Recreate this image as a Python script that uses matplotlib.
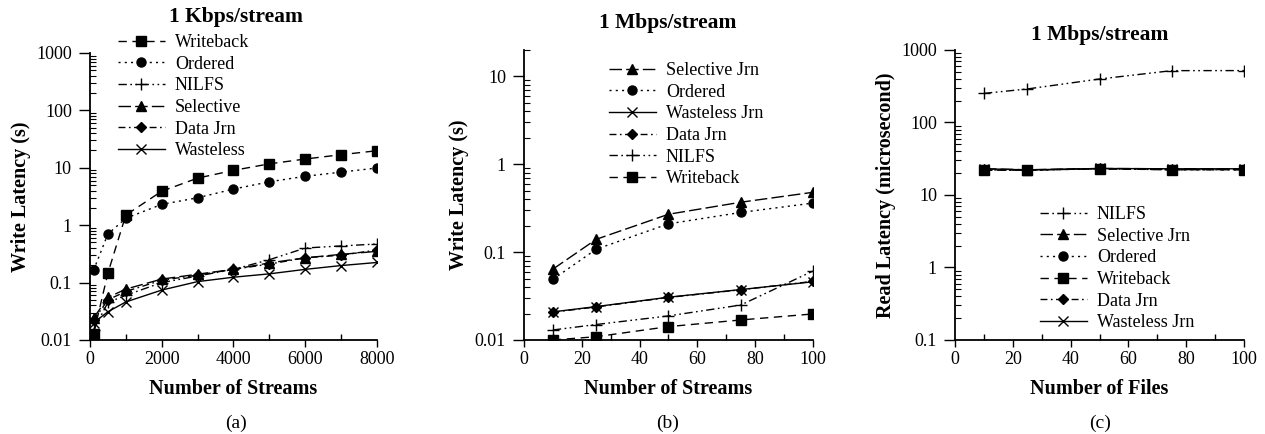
import matplotlib
matplotlib.use("Agg")
import matplotlib.pyplot as plt
from matplotlib.ticker import LogLocator, NullFormatter, FixedLocator

plt.rcParams['font.family'] = ['Liberation Serif', 'DejaVu Serif']

# ------------------- DATA -------------------
# (a) 1 Kbps/stream, write latency (s)
streams_a = [100, 500, 1000, 2000, 3000, 4000, 5000, 6000, 7000, 8000]
a_writeback = [0.0126, 0.146, 1.5, 3.9, 6.6, 9.0, 11.7, 14.2, 16.9, 19.8]
a_ordered = [0.164, 0.70, 1.32, 2.3, 3.0, 4.25, 5.7, 7.1, 8.4, 9.9]
a_nilfs = [0.015, 0.045, 0.06, 0.10, 0.13, 0.17, 0.25, 0.40, 0.435, 0.47]
a_selective = [0.024, 0.055, 0.077, 0.115, 0.14, 0.17, 0.22, 0.27, 0.31, 0.35]
a_datajrn = [0.022, 0.050, 0.070, 0.11, 0.135, 0.17, 0.21, 0.27, 0.30, 0.37]
a_wasteless = [0.020, 0.031, 0.046, 0.074, 0.104, 0.124, 0.142, 0.17, 0.198, 0.224]

# (b) 1 Mbps/stream, write latency (s)
streams_b = [10, 25, 50, 75, 100]
b_selective = [0.064, 0.14, 0.27, 0.37, 0.48]
b_ordered = [0.049, 0.108, 0.21, 0.283, 0.362]
b_wasteless = [0.0209, 0.024, 0.0307, 0.0375, 0.046]
b_datajrn = [0.0207, 0.0238, 0.0305, 0.0373, 0.0465]
b_nilfs = [0.013, 0.015, 0.0188, 0.025, 0.061]
b_writeback = [0.010, 0.0109, 0.0142, 0.0169, 0.0198]

# (c) 1 Mbps/stream, read latency (microsecond)
files_c = [10, 25, 50, 75, 100]
c_nilfs = [252, 290, 398, 519, 520]
c_selective = [23, 22.3, 23.2, 23, 23]
c_ordered = [22, 22, 23, 22.3, 22.3]
c_writeback = [22, 22, 23, 22.3, 22.3]
c_datajrn = [22.2, 22, 23, 22.4, 22.4]
c_wasteless = [23, 22.2, 23.2, 23, 23]
# --------------------------------------------

STYLE = {
    "writeback": dict(ls=(0, (6, 4)), marker="s", ms=6.5),
    "ordered": dict(ls=(0, (1.5, 3)), marker="o", ms=6.5),
    "nilfs": dict(ls=(0, (6, 2.5, 1.2, 2.5, 1.2, 2.5)), marker="+", ms=8, mew=1.0),
    "selective": dict(ls=(0, (9, 3)), marker="^", ms=6.5),
    "datajrn": dict(ls=(0, (5, 2.5, 1.2, 2.5)), marker="D", ms=5),
    "wasteless": dict(ls="-", marker="x", ms=7, mew=1.0),
}

TICK_FS = 13
LABEL_FS = 14.5
TITLE_FS = 15.5
LEG_FS = 13
CAP_FS = 14


def draw(ax, x, y, key, label):
    ax.plot(x, y, color="black", lw=1.0, label=label, **STYLE[key])


def style_axes(ax):
    ax.set_yscale("log")
    for s in ("top", "right"):
        ax.spines[s].set_visible(False)
    for s in ("left", "bottom"):
        ax.spines[s].set_linewidth(1.3)
    ax.yaxis.set_major_locator(LogLocator(base=10))
    ax.yaxis.set_minor_locator(LogLocator(base=10, subs=range(2, 10)))
    ax.yaxis.set_minor_formatter(NullFormatter())
    ax.yaxis.set_major_formatter(plt.FuncFormatter(lambda v, p: f"{v:g}"))
    ax.tick_params(axis="y", which="major", direction="out", length=8, width=1.0,
                   labelsize=TICK_FS, pad=5)
    ax.tick_params(axis="y", which="minor", direction="in", length=4, width=0.8)
    ax.tick_params(axis="x", which="major", direction="out", length=5, width=1.0,
                   labelsize=TICK_FS, pad=3)
    ax.tick_params(axis="x", which="minor", direction="in", length=4, width=1.0)


fig = plt.figure(figsize=(12.65, 4.34), dpi=100)

leg_kw = dict(frameon=False, fontsize=LEG_FS, handlelength=2.6, handletextpad=0.55,
              labelspacing=0.26, borderpad=0, borderaxespad=0)

# (a)
ax1 = fig.add_axes([0.0711, 0.2166, 0.2269, 0.6614])
draw(ax1, streams_a, a_writeback, "writeback", "Writeback")
draw(ax1, streams_a, a_ordered, "ordered", "Ordered")
draw(ax1, streams_a, a_nilfs, "nilfs", "NILFS")
draw(ax1, streams_a, a_selective, "selective", "Selective")
draw(ax1, streams_a, a_datajrn, "datajrn", "Data Jrn")
draw(ax1, streams_a, a_wasteless, "wasteless", "Wasteless")
style_axes(ax1)
ax1.set_ylim(0.01, 1000)
ax1.set_xlim(0, 8000)
ax1.set_xticks([0, 2000, 4000, 6000, 8000])
ax1.xaxis.set_minor_locator(FixedLocator([1000, 3000, 5000, 7000]))
ax1.set_ylabel("Write Latency (s)", fontsize=LABEL_FS, fontweight="bold", labelpad=4)
ax1.set_xlabel("Number of Streams", fontsize=LABEL_FS, fontweight="bold", labelpad=8)
ax1.legend(loc="upper left", bbox_to_anchor=(118 / 1265, 1 - 34 / 434),
           bbox_transform=fig.transFigure, **leg_kw)
fig.text(236 / 1265, 1 - 17 / 434, "1 Kbps/stream", ha="center", va="center",
         fontsize=TITLE_FS, fontweight="bold")
fig.text(236 / 1265, 1 - 423 / 434, "(a)", ha="center", va="center", fontsize=CAP_FS)

# (b)
ax2 = fig.add_axes([0.4142, 0.2166, 0.2285, 0.6682])
draw(ax2, streams_b, b_selective, "selective", "Selective Jrn")
draw(ax2, streams_b, b_ordered, "ordered", "Ordered")
draw(ax2, streams_b, b_wasteless, "wasteless", "Wasteless Jrn")
draw(ax2, streams_b, b_datajrn, "datajrn", "Data Jrn")
draw(ax2, streams_b, b_nilfs, "nilfs", "NILFS")
draw(ax2, streams_b, b_writeback, "writeback", "Writeback")
style_axes(ax2)
ax2.set_ylim(0.01, 20)
ax2.set_xlim(0, 100)
ax2.set_xticks([0, 20, 40, 60, 80, 100])
ax2.xaxis.set_minor_locator(FixedLocator([10, 30, 50, 70, 90]))
ax2.set_ylabel("Write Latency (s)", fontsize=LABEL_FS, fontweight="bold", labelpad=4)
ax2.set_xlabel("Number of Streams", fontsize=LABEL_FS, fontweight="bold", labelpad=8)
ax2.legend(loc="upper left", bbox_to_anchor=(609 / 1265, 1 - 62 / 434),
           bbox_transform=fig.transFigure, **leg_kw)
fig.text(668 / 1265, 1 - 23 / 434, "1 Mbps/stream", ha="center", va="center",
         fontsize=TITLE_FS, fontweight="bold")
fig.text(668 / 1265, 1 - 423 / 434, "(b)", ha="center", va="center", fontsize=CAP_FS)

# (c)
ax3 = fig.add_axes([0.755, 0.2166, 0.2284, 0.6682])
draw(ax3, files_c, c_nilfs, "nilfs", "NILFS")
draw(ax3, files_c, c_selective, "selective", "Selective Jrn")
draw(ax3, files_c, c_ordered, "ordered", "Ordered")
draw(ax3, files_c, c_writeback, "writeback", "Writeback")
draw(ax3, files_c, c_datajrn, "datajrn", "Data Jrn")
draw(ax3, files_c, c_wasteless, "wasteless", "Wasteless Jrn")
style_axes(ax3)
ax3.set_ylim(0.1, 1000)
ax3.set_xlim(0, 100)
ax3.set_xticks([0, 20, 40, 60, 80, 100])
ax3.xaxis.set_minor_locator(FixedLocator([10, 30, 50, 70, 90]))
ax3.set_ylabel("Read Latency (microsecond)", fontsize=LABEL_FS, fontweight="bold", labelpad=4)
ax3.set_xlabel("Number of Files", fontsize=LABEL_FS, fontweight="bold", labelpad=8)
ax3.legend(loc="upper left", bbox_to_anchor=(1040 / 1265, 1 - 206 / 434),
           bbox_transform=fig.transFigure, **leg_kw)
fig.text(1100 / 1265, 1 - 35 / 434, "1 Mbps/stream", ha="center", va="center",
         fontsize=TITLE_FS, fontweight="bold")
fig.text(1100 / 1265, 1 - 423 / 434, "(c)", ha="center", va="center", fontsize=CAP_FS)

fig.savefig("out.png", dpi=100)
